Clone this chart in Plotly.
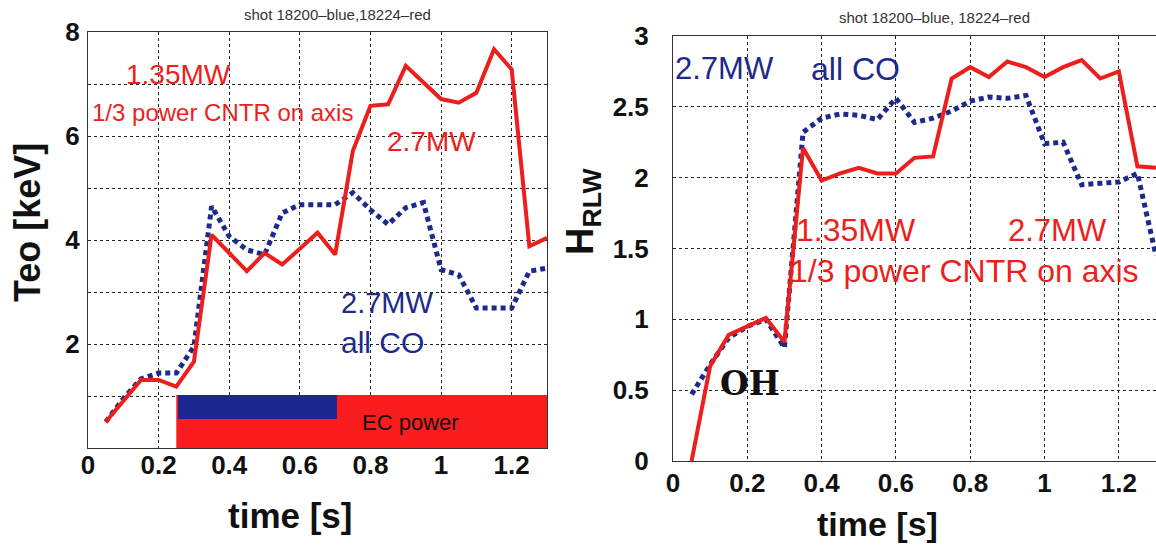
import plotly.graph_objects as go

# ---------------- data ----------------
time_s = [0.05, 0.10, 0.15, 0.20, 0.25, 0.30, 0.35, 0.40, 0.45, 0.50, 0.55, 0.60, 0.65,
          0.70, 0.75, 0.80, 0.85, 0.90, 0.95, 1.00, 1.05, 1.10, 1.15, 1.20, 1.25, 1.30]

teo_red = [0.50, 0.90, 1.31, 1.31, 1.18, 1.66, 4.10, 3.75, 3.40, 3.75, 3.53, 3.83, 4.14,
           3.72, 5.71, 6.58, 6.61, 7.35, 7.03, 6.71, 6.64, 6.83, 7.67, 7.28, 3.88, 4.04]
teo_blue = [0.50, 0.95, 1.33, 1.44, 1.44, 1.95, 4.65, 4.07, 3.81, 3.72, 4.52, 4.68, 4.68,
            4.68, 4.91, 4.58, 4.30, 4.62, 4.72, 3.43, 3.33, 2.69, 2.69, 2.69, 3.40, 3.46]

hrlw_red = [0.00, 0.67, 0.89, 0.95, 1.01, 0.84, 2.21, 1.98, 2.03, 2.07, 2.03, 2.03, 2.14,
            2.15, 2.70, 2.78, 2.71, 2.82, 2.78, 2.71, 2.78, 2.83, 2.70, 2.75, 2.08, 2.07]
hrlw_blue = [0.47, 0.68, 0.87, 0.95, 1.00, 0.80, 2.32, 2.42, 2.45, 2.44, 2.41, 2.56, 2.39,
             2.42, 2.47, 2.54, 2.57, 2.56, 2.58, 2.24, 2.25, 1.95, 1.96, 1.97, 2.03, 1.45]

# EC power intervals: [t_start, t_end, level_low, level_high]
ec_red = [0.25, 1.30, 0.0, 1.02]
ec_blue = [0.255, 0.705, 0.56, 1.02]

x_ticks = [0, 0.2, 0.4, 0.6, 0.8, 1.0, 1.2]
x_ticktext = ["0", "0.2", "0.4", "0.6", "0.8", "1", "1.2"]
teo_ticks = [0, 1, 2, 3, 4, 5, 6, 7, 8]
teo_ticktext = [" ", " ", "2", " ", "4", " ", "6", " ", "8"]
h_ticks = [0, 0.5, 1, 1.5, 2, 2.5, 3]
h_ticktext = ["0", "0.5", "1", "1.5", "2", "2.5", "3"]

# ---------------- style ----------------
RED = "#ec1f1c"
BLUE = "#1c2a8c"
BAR_RED = "#fb1d1d"
BAR_BLUE = "#1d2790"
FONT = "Liberation Sans, Arial, sans-serif"
W, H = 1156, 546

fig = go.Figure()

fig.add_trace(go.Scatter(x=time_s, y=teo_blue, mode="lines", xaxis="x", yaxis="y",
                         line=dict(color=BLUE, width=5, dash="5px,4px")))
fig.add_trace(go.Scatter(x=time_s, y=teo_red, mode="lines", xaxis="x", yaxis="y",
                         line=dict(color=RED, width=4)))
fig.add_trace(go.Scatter(x=time_s, y=hrlw_blue, mode="lines", xaxis="x2", yaxis="y2",
                         line=dict(color=BLUE, width=5, dash="5px,4px")))
fig.add_trace(go.Scatter(x=time_s, y=hrlw_red, mode="lines", xaxis="x2", yaxis="y2",
                         line=dict(color=RED, width=4)))

# EC power bars (data coordinates)
fig.add_shape(type="rect", xref="x", yref="y", x0=ec_red[0], x1=ec_red[1], y0=ec_red[2], y1=ec_red[3],
              fillcolor=BAR_RED, line=dict(width=0), layer="between")
fig.add_shape(type="rect", xref="x", yref="y", x0=ec_blue[0], x1=ec_blue[1], y0=ec_blue[2], y1=ec_blue[3],
              fillcolor=BAR_BLUE, line=dict(width=0), layer="between")

axis_common = dict(showgrid=True, gridcolor="#222", griddash="dot", gridwidth=1,
                   showline=True, linecolor="#333", linewidth=1, mirror=True, automargin=False,
                   zeroline=False, ticks="", tickfont=dict(family=FONT, size=26, color="#111", weight="bold"))

fig.update_layout(
    width=W, height=H, margin=dict(l=0, r=0, t=0, b=0, autoexpand=False),
    paper_bgcolor="white", plot_bgcolor="white", showlegend=False,
    xaxis=dict(domain=[88 / W, 547 / W], range=[0, 1.3], tickvals=x_ticks, ticktext=x_ticktext,
               anchor="y", ticklabelstandoff=-6, **axis_common),
    yaxis=dict(domain=[1 - 448 / H, 1 - 32 / H], range=[0, 8], tickvals=teo_ticks, ticktext=teo_ticktext,
               anchor="x", ticklabelstandoff=2, **axis_common),
    xaxis2=dict(domain=[673 / W, 1.0], range=[0, 1.3], tickvals=x_ticks, ticktext=x_ticktext,
                anchor="y2", ticklabelstandoff=-1, **axis_common),
    yaxis2=dict(domain=[1 - 461 / H, 1 - 36 / H], range=[0, 3], tickvals=h_ticks, ticktext=h_ticktext,
                anchor="x2", ticklabelstandoff=18, **axis_common),
)

def txt(text, x, y, color, size, xref="x", yref="y", xanchor="left", yanchor="middle",
        angle=0, weight="normal", family=FONT):
    fig.add_annotation(text=text, x=x, y=y, xref=xref, yref=yref, xanchor=xanchor, yanchor=yanchor,
                       showarrow=False, textangle=angle,
                       font=dict(family=family, size=size, color=color, weight=weight))

# left panel texts
txt("1.35MW", 0.256, 7.19, RED, 28, xanchor="center")
txt("1/3 power CNTR on axis", 0.005, 6.45, RED, 24)
txt("2.7MW", 0.973, 5.90, RED, 28, xanchor="center")
txt("2.7MW", 0.712, 2.79, BLUE, 29)
txt("all CO", 0.712, 2.02, BLUE, 30)
txt("EC power", 0.912, 0.50, "#111", 22, xanchor="center")

# right panel texts
txt("2.7MW", 0.0, 2.77, BLUE, 31, xref="x2", yref="y2")
txt("all CO", 0.365, 2.77, BLUE, 32, xref="x2", yref="y2")
txt("1.35MW", 0.325, 1.63, RED, 32, xref="x2", yref="y2")
txt("2.7MW", 0.895, 1.63, RED, 31, xref="x2", yref="y2")
txt("1/3 power CNTR on axis", 0.31, 1.34, RED, 32, xref="x2", yref="y2")
txt("OH", 0.208, 0.55, "#111", 33, xref="x2", yref="y2", xanchor="center",
    weight="bold", family="DejaVu Serif, Liberation Serif, serif")

# titles
txt("shot 18200–blue,18224–red", 337 / W, 1 - 14 / H, "#333", 15, xref="paper", yref="paper", xanchor="center")
txt("shot 18200–blue, 18224–red", 934 / W, 1 - 17 / H, "#333", 15, xref="paper", yref="paper", xanchor="center")

# axis titles
txt("Teo [keV]", 27 / W, 1 - 223 / H, "#111", 36, xref="paper", yref="paper", xanchor="center", angle=-90, weight="bold")
txt("H<sub>RLW</sub>", 583 / W, 1 - 212 / H, "#111", 38, xref="paper", yref="paper", xanchor="center", angle=-90, weight="bold")
txt("time [s]", 290 / W, 1 - 515 / H, "#111", 35, xref="paper", yref="paper", xanchor="center", weight="bold")
txt("time [s]", 877 / W, 1 - 524 / H, "#111", 34, xref="paper", yref="paper", xanchor="center", weight="bold")

fig.write_html("out.html")
